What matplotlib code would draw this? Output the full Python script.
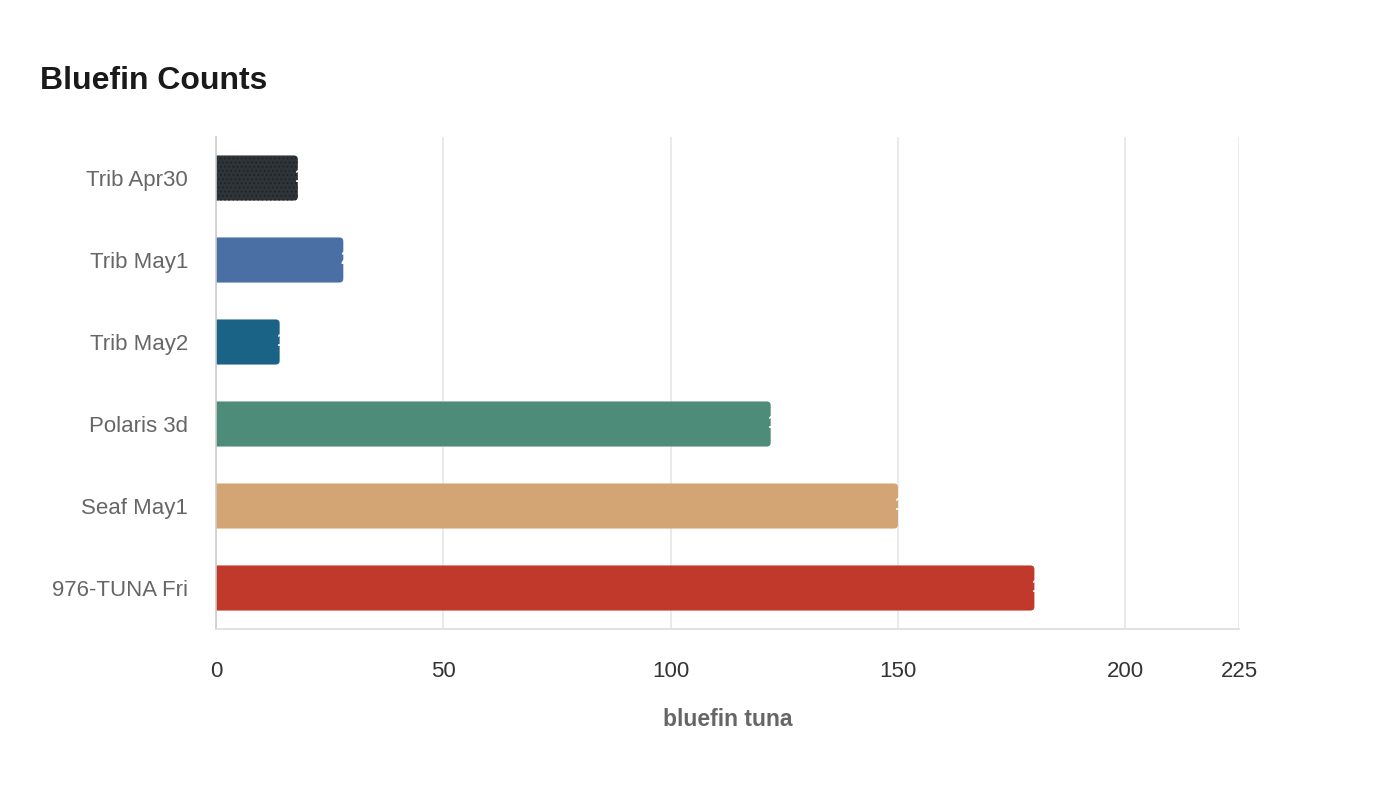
import matplotlib
matplotlib.use("Agg")
import matplotlib.pyplot as plt
from matplotlib.patches import FancyBboxPatch

categories = ["Trib Apr30", "Trib May1", "Trib May2", "Polaris 3d", "Seaf May1", "976-TUNA Fri"]
values = [18, 28, 14, 122, 150, 180]
colors = ["#2f3438", "#4a6fa5", "#1b6287", "#4e8c7a", "#d4a574", "#c0392b"]
x_ticks = [0, 50, 100, 150, 200, 225]
title = "Bluefin Counts"
x_label = "bluefin tuna"

plt.rcParams['font.family'] = ['Liberation Sans', 'DejaVu Sans']
plt.rcParams['hatch.linewidth'] = 0.6

fig = plt.figure(figsize=(14, 8), dpi=100)
ax = fig.add_axes([216/1400, 1 - 629/800, (1239-216)/1400, (629-137)/800])

ypos = list(range(len(categories)))
bars = ax.barh(ypos, values, height=0.55, color=colors)
ax.set_xlim(0, 225)
ax.set_ylim(len(categories) - 0.5, -0.5)

# rounded ends
px_x = (1239-216) / 225.0
px_y = (629-137) / 6.0
r_px = 4.0
r_x = r_px / px_x
aspect = (r_px / px_y) / r_x
for i, b in enumerate(bars):
    x, y, w, h = b.get_x(), b.get_y(), b.get_width(), b.get_height()
    b.set_visible(False)
    p = FancyBboxPatch((x - 2, y), w + 2, h,
                       boxstyle=f"round,pad=0,rounding_size={r_x}",
                       mutation_aspect=aspect, facecolor=colors[i],
                       edgecolor="none", zorder=2, clip_on=True)
    ax.add_patch(p)
    if i == 0:
        h2 = FancyBboxPatch((x - 2, y), w + 2, h,
                            boxstyle=f"round,pad=0,rounding_size={r_x}",
                            mutation_aspect=aspect, facecolor="none",
                            edgecolor="#1c2022", hatch="....", linewidth=0,
                            zorder=2.1, clip_on=True)
        ax.add_patch(h2)
    ax.annotate(str(values[i]), xy=(values[i], i), xytext=(-2, 0),
                textcoords="offset points", ha="left", va="center",
                color="white", fontsize=13, fontweight="bold", zorder=3)

ax.set_xticks(x_ticks)
ax.set_xticklabels([str(t) for t in x_ticks])
ax.set_yticks(ypos)
ax.set_yticklabels(categories)
ax.grid(axis="x", color="#e6e6e6", linewidth=1.2, zorder=0)
ax.set_axisbelow(True)
for s in ["top", "right"]:
    ax.spines[s].set_visible(False)
ax.spines["left"].set_color("#cccccc")
ax.spines["bottom"].set_color("#dddddd")
ax.spines["left"].set_linewidth(1.2)
ax.spines["bottom"].set_linewidth(1.2)
ax.tick_params(axis="x", length=0, pad=23, labelsize=16, labelcolor="#333333")
ax.tick_params(axis="y", length=0, pad=20, labelsize=16, labelcolor="#666666")

ax.set_xlabel(x_label, fontsize=16.5, fontweight="bold", color="#666666", labelpad=19)
fig.text(40/1400, 1 - 81/800, title, fontsize=23, fontweight="bold",
         color="#1a1a1a", ha="left", va="center")

fig.savefig("out.png", dpi=100, facecolor="white")
